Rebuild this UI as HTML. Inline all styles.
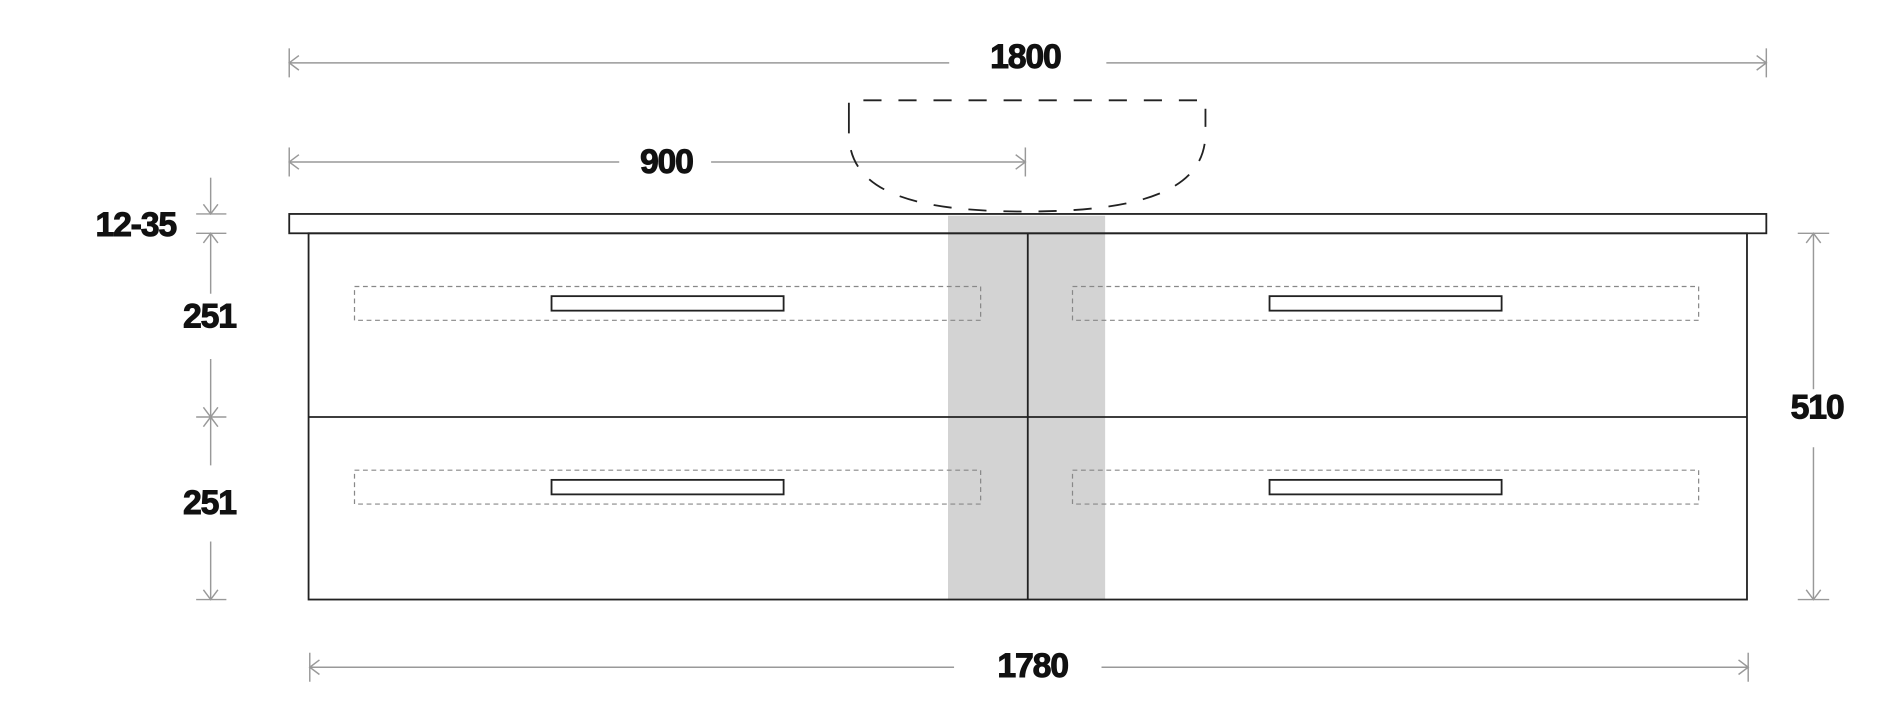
<!DOCTYPE html>
<html><head><meta charset="utf-8"><style>
html,body{margin:0;padding:0;background:#fff;}
svg{display:block;}
text{font-family:"Liberation Sans",sans-serif;font-weight:bold;fill:#111;stroke:#111;stroke-width:0.8;text-anchor:middle;dominant-baseline:central;letter-spacing:-1px;}
</style></head><body>
<svg width="1896" height="718" viewBox="0 0 1568 594" xmlns="http://www.w3.org/2000/svg">
<rect x="784" y="178.5" width="130" height="318" fill="#d3d3d3"/>
<g stroke="#999" stroke-width="1.2" fill="none">
<line x1="239" y1="40" x2="239" y2="64"/><line x1="1461" y1="40" x2="1461" y2="64"/>
<line x1="239" y1="52" x2="785" y2="52"/><line x1="915" y1="52" x2="1461" y2="52"/>
<polyline points="247,46 239,52 247,58"/><polyline points="1453,46 1461,52 1453,58"/>
<line x1="239" y1="122" x2="239" y2="146"/><line x1="848" y1="122" x2="848" y2="146"/>
<line x1="239" y1="134" x2="512" y2="134"/><line x1="588" y1="134" x2="848" y2="134"/>
<polyline points="247,128 239,134 247,140"/><polyline points="840,128 848,134 840,140"/>
<line x1="256" y1="540" x2="256" y2="564"/><line x1="1446" y1="540" x2="1446" y2="564"/>
<line x1="256" y1="552" x2="789" y2="552"/><line x1="911" y1="552" x2="1446" y2="552"/>
<polyline points="264,546 256,552 264,558"/><polyline points="1438,546 1446,552 1438,558"/>
<line x1="1487" y1="193" x2="1513" y2="193"/><line x1="1487" y1="496" x2="1513" y2="496"/>
<line x1="1500" y1="193" x2="1500" y2="322"/><line x1="1500" y1="370" x2="1500" y2="496"/>
<polyline points="1494,201 1500,193 1506,201"/><polyline points="1494,488 1500,496 1506,488"/>
<line x1="162" y1="177" x2="187" y2="177"/><line x1="162" y1="193" x2="187" y2="193"/>
<line x1="174" y1="147" x2="174" y2="177"/><polyline points="168,169 174,177 180,169"/>
<line x1="174" y1="193" x2="174" y2="243"/><polyline points="168,201 174,193 180,201"/>
<line x1="162" y1="345" x2="187" y2="345"/>
<line x1="174" y1="297" x2="174" y2="345"/><polyline points="168,337 174,345 180,337"/>
<line x1="174" y1="345" x2="174" y2="385"/><polyline points="168,353 174,345 180,353"/>
<line x1="162" y1="496" x2="187" y2="496"/>
<line x1="174" y1="448" x2="174" y2="496"/><polyline points="168,488 174,496 180,488"/>
</g>
<g stroke="#888" stroke-width="1" fill="none" stroke-dasharray="4,3">
<rect x="293" y="237" width="518" height="28"/><rect x="887" y="237" width="518" height="28"/>
<rect x="293" y="389" width="518" height="28"/><rect x="887" y="389" width="518" height="28"/>
</g>
<g stroke="#222" stroke-width="1.5" fill="none">
<rect x="239" y="177" width="1222" height="16"/>
<rect x="255" y="193" width="1190" height="303"/>
<line x1="255" y1="345" x2="1445" y2="345"/>
<line x1="850" y1="193" x2="850" y2="496"/>
<rect x="456" y="245" width="192" height="12" fill="#fff"/><rect x="1050" y="245" width="192" height="12" fill="#fff"/>
<rect x="456" y="397" width="192" height="12" fill="#fff"/><rect x="1050" y="397" width="192" height="12" fill="#fff"/>
<path d="M702,100 L702,83 L997,83 L997,110 C997,155 950,175 848,175 C746,175 702,155 702,110 Z" stroke-dasharray="15,14"/>
</g>
<text x="848" y="47" font-size="28">1800</text>
<text x="551" y="134" font-size="28">900</text>
<text x="112" y="186" font-size="28">12-35</text>
<text x="173" y="262" font-size="28">251</text>
<text x="173" y="416" font-size="28">251</text>
<text x="1503" y="337" font-size="28">510</text>
<text x="854" y="551" font-size="28">1780</text>
</svg>
</body></html>
